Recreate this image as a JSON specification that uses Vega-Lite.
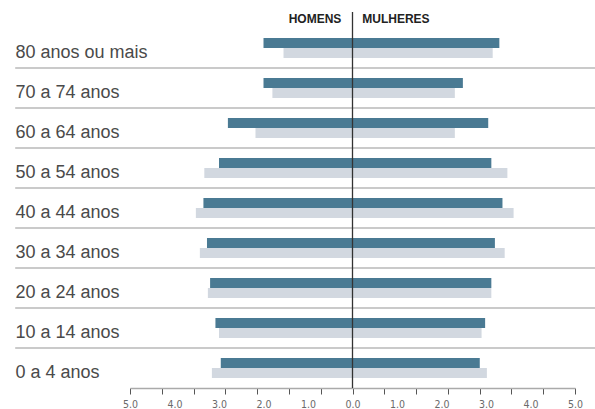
{
  "$schema": "https://vega.github.io/schema/vega-lite/v6.json",
  "width": 445,
  "height": 376,
  "autosize": {"type": "none"},
  "padding": {"left": 130, "top": 12, "right": 20, "bottom": 21},
  "background": "white",
  "config": {"view": {"stroke": null}, "font": "Liberation Sans"},
  "datasets": {
    "piramide": [
      {"faixa": "80 anos ou mais", "sexo": "Homens", "serie": "escura", "valor": -2.0},
      {"faixa": "80 anos ou mais", "sexo": "Homens", "serie": "clara", "valor": -1.55},
      {"faixa": "80 anos ou mais", "sexo": "Mulheres", "serie": "escura", "valor": 3.3},
      {"faixa": "80 anos ou mais", "sexo": "Mulheres", "serie": "clara", "valor": 3.15},
      {"faixa": "70 a 74 anos", "sexo": "Homens", "serie": "escura", "valor": -2.0},
      {"faixa": "70 a 74 anos", "sexo": "Homens", "serie": "clara", "valor": -1.8},
      {"faixa": "70 a 74 anos", "sexo": "Mulheres", "serie": "escura", "valor": 2.48},
      {"faixa": "70 a 74 anos", "sexo": "Mulheres", "serie": "clara", "valor": 2.3},
      {"faixa": "60 a 64 anos", "sexo": "Homens", "serie": "escura", "valor": -2.8},
      {"faixa": "60 a 64 anos", "sexo": "Homens", "serie": "clara", "valor": -2.18},
      {"faixa": "60 a 64 anos", "sexo": "Mulheres", "serie": "escura", "valor": 3.05},
      {"faixa": "60 a 64 anos", "sexo": "Mulheres", "serie": "clara", "valor": 2.3},
      {"faixa": "50 a 54 anos", "sexo": "Homens", "serie": "escura", "valor": -3.0},
      {"faixa": "50 a 54 anos", "sexo": "Homens", "serie": "clara", "valor": -3.33},
      {"faixa": "50 a 54 anos", "sexo": "Mulheres", "serie": "escura", "valor": 3.12},
      {"faixa": "50 a 54 anos", "sexo": "Mulheres", "serie": "clara", "valor": 3.48},
      {"faixa": "40 a 44 anos", "sexo": "Homens", "serie": "escura", "valor": -3.35},
      {"faixa": "40 a 44 anos", "sexo": "Homens", "serie": "clara", "valor": -3.52},
      {"faixa": "40 a 44 anos", "sexo": "Mulheres", "serie": "escura", "valor": 3.37},
      {"faixa": "40 a 44 anos", "sexo": "Mulheres", "serie": "clara", "valor": 3.62},
      {"faixa": "30 a 34 anos", "sexo": "Homens", "serie": "escura", "valor": -3.27},
      {"faixa": "30 a 34 anos", "sexo": "Homens", "serie": "clara", "valor": -3.43},
      {"faixa": "30 a 34 anos", "sexo": "Mulheres", "serie": "escura", "valor": 3.2},
      {"faixa": "30 a 34 anos", "sexo": "Mulheres", "serie": "clara", "valor": 3.42},
      {"faixa": "20 a 24 anos", "sexo": "Homens", "serie": "escura", "valor": -3.2},
      {"faixa": "20 a 24 anos", "sexo": "Homens", "serie": "clara", "valor": -3.25},
      {"faixa": "20 a 24 anos", "sexo": "Mulheres", "serie": "escura", "valor": 3.12},
      {"faixa": "20 a 24 anos", "sexo": "Mulheres", "serie": "clara", "valor": 3.12},
      {"faixa": "10 a 14 anos", "sexo": "Homens", "serie": "escura", "valor": -3.08},
      {"faixa": "10 a 14 anos", "sexo": "Homens", "serie": "clara", "valor": -3.0},
      {"faixa": "10 a 14 anos", "sexo": "Mulheres", "serie": "escura", "valor": 2.98},
      {"faixa": "10 a 14 anos", "sexo": "Mulheres", "serie": "clara", "valor": 2.9},
      {"faixa": "0 a 4 anos", "sexo": "Homens", "serie": "escura", "valor": -2.96},
      {"faixa": "0 a 4 anos", "sexo": "Homens", "serie": "clara", "valor": -3.16},
      {"faixa": "0 a 4 anos", "sexo": "Mulheres", "serie": "escura", "valor": 2.86},
      {"faixa": "0 a 4 anos", "sexo": "Mulheres", "serie": "clara", "valor": 3.02}
    ],
    "separadores": [
      {"faixa": "70 a 74 anos"},
      {"faixa": "60 a 64 anos"},
      {"faixa": "50 a 54 anos"},
      {"faixa": "40 a 44 anos"},
      {"faixa": "30 a 34 anos"},
      {"faixa": "20 a 24 anos"},
      {"faixa": "10 a 14 anos"},
      {"faixa": "0 a 4 anos"}
    ],
    "cabecalho": [
      {"sexo": "HOMENS"}
    ]
  },
  "resolve": {"axis": {"x": "independent"}},
  "layer": [
    {
      "data": {"name": "separadores"},
      "mark": {"type": "rule", "color": "#b8b8b8", "strokeWidth": 1.6},
      "encoding": {
        "y": {
          "field": "faixa",
          "type": "nominal",
          "bandPosition": 0,
          "scale": {
            "domain": ["80 anos ou mais", "70 a 74 anos", "60 a 64 anos", "50 a 54 anos", "40 a 44 anos", "30 a 34 anos", "20 a 24 anos", "10 a 14 anos", "0 a 4 anos"],
            "paddingInner": 0,
            "paddingOuter": 0.2,
            "align": 1
          },
          "axis": {
            "title": null,
            "ticks": false,
            "domain": false,
            "labelAlign": "left",
            "labelPadding": 115,
            "labelBaseline": "alphabetic",
            "labelOffset": 10,
            "labelFont": "Liberation Sans",
            "labelFontSize": 18,
            "labelColor": "#4a4a4a",
            "labelLimit": 200
          }
        },
        "x": {"datum": -7.58, "type": "quantitative", "axis": null},
        "x2": {"datum": 5.45}
      }
    },
    {
      "data": {"name": "piramide"},
      "mark": {"type": "bar"},
      "encoding": {
        "y": {"field": "faixa", "type": "nominal"},
        "yOffset": {
          "field": "serie",
          "type": "nominal",
          "scale": {"domain": ["escura", "clara"], "paddingInner": 0, "paddingOuter": 1}
        },
        "x": {
          "field": "valor",
          "type": "quantitative",
          "stack": null,
          "scale": {"domain": [-5, 5], "nice": false, "zero": false},
          "axis": {
            "title": null,
            "orient": "bottom",
            "values": [-5, -4.2857, -3.5714, -2.8571, -2.1429, -1.4286, -0.7143, 0, 0.7143, 1.4286, 2.1429, 2.8571, 3.5714, 4.2857, 5],
            "labels": false,
            "grid": false,
            "domain": true,
            "domainColor": "#aaaaaa",
            "domainWidth": 1.6,
            "tickColor": "#555555",
            "tickSize": 6,
            "tickWidth": 1
          }
        },
        "color": {
          "field": "serie",
          "type": "nominal",
          "scale": {"domain": ["escura", "clara"], "range": ["#4a7a93", "#d2d8e0"]},
          "legend": null
        }
      }
    },
    {
      "data": {"name": "cabecalho"},
      "mark": {"type": "rule", "color": "#333333", "strokeWidth": 1.3},
      "encoding": {
        "x": {
          "datum": 0,
          "type": "quantitative",
          "axis": {
            "title": null,
            "orient": "bottom",
            "values": [-5, -4, -3, -2, -1, 0, 1, 2, 3, 4, 5],
            "ticks": false,
            "domain": false,
            "grid": false,
            "labelFlush": false,
            "labelOverlap": false,
            "labelExpr": "format(abs(datum.value), '.1f')",
            "labelFont": "DejaVu Sans Condensed",
            "labelFontSize": 10.5,
            "labelColor": "#6a6a6a",
            "labelPadding": 11
          }
        }
      }
    },
    {
      "data": {"name": "cabecalho"},
      "mark": {"type": "text", "align": "right", "baseline": "alphabetic", "dy": -5, "fontWeight": "bold", "fontSize": 12, "color": "#222222", "font": "Liberation Sans"},
      "encoding": {
        "text": {"field": "sexo"},
        "x": {"datum": -0.25, "type": "quantitative", "axis": null},
        "y": {"datum": "80 anos ou mais", "type": "nominal", "bandPosition": 0}
      }
    },
    {
      "data": {"name": "cabecalho"},
      "mark": {"type": "text", "text": "MULHERES", "align": "left", "baseline": "alphabetic", "dy": -5, "fontWeight": "bold", "fontSize": 12, "color": "#222222", "font": "Liberation Sans"},
      "encoding": {
        "x": {"datum": 0.22, "type": "quantitative", "axis": null},
        "y": {"datum": "80 anos ou mais", "type": "nominal", "bandPosition": 0}
      }
    }
  ]
}
